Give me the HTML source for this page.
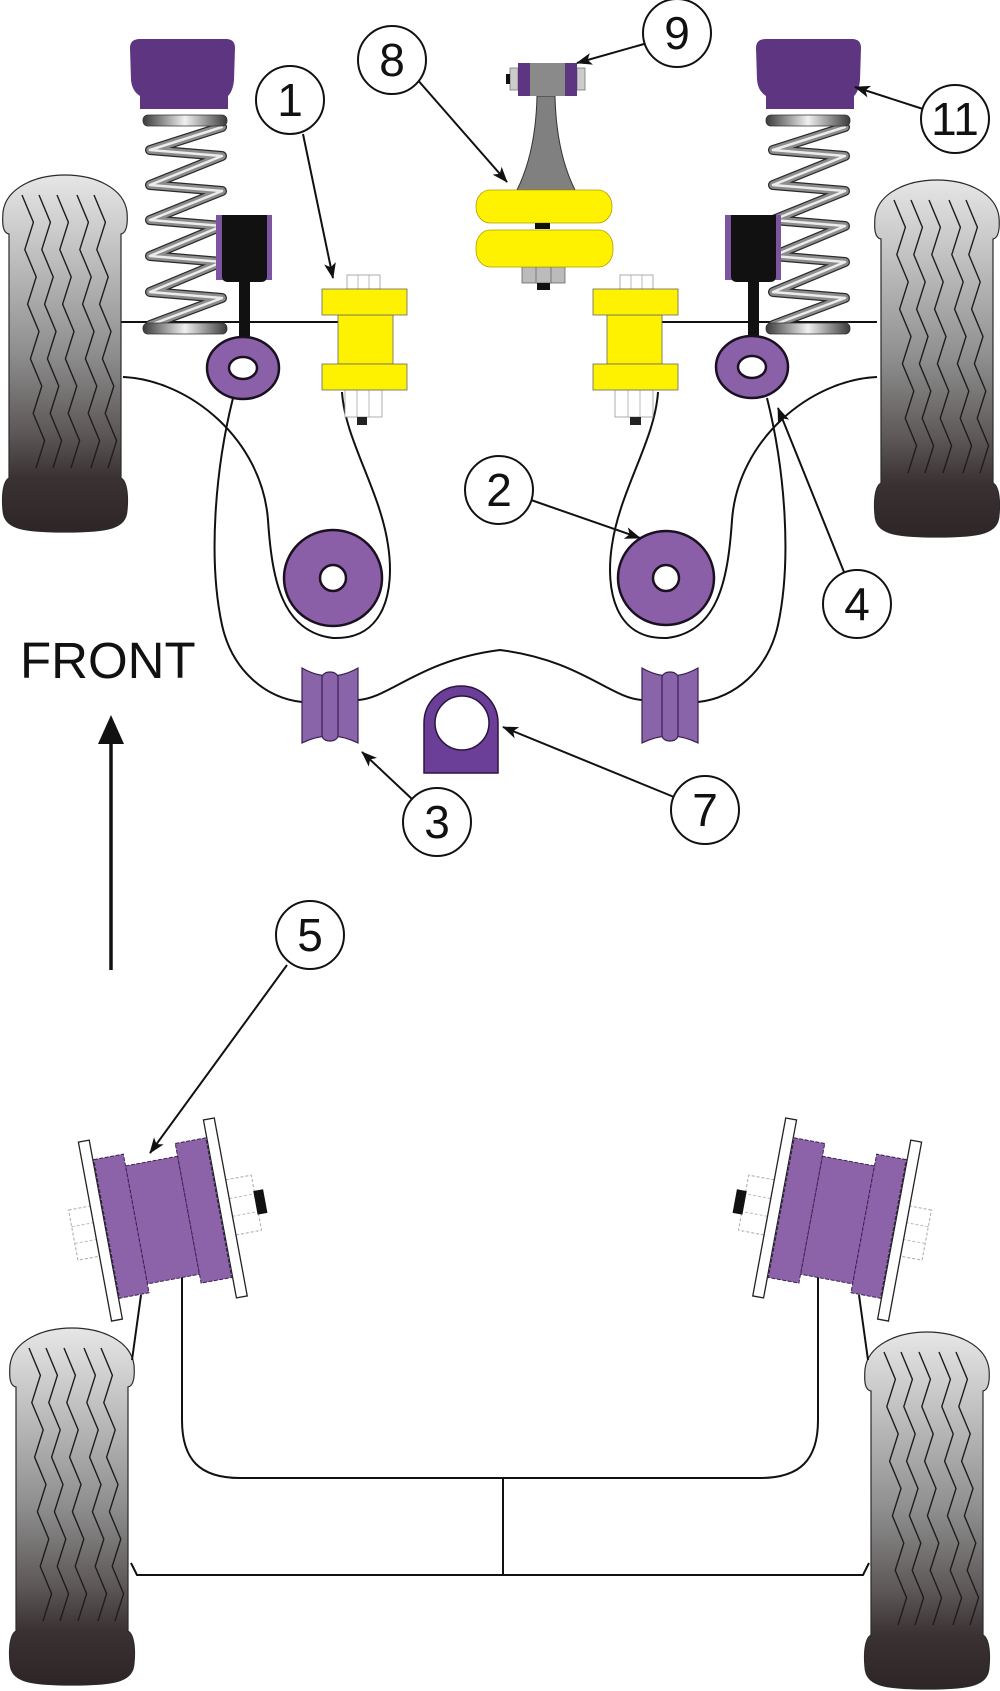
<!DOCTYPE html>
<html><head><meta charset="utf-8"><style>
html,body{margin:0;padding:0;background:#fff;}
svg{display:block;}
</style></head><body>
<svg width="1000" height="1691" viewBox="0 0 1000 1691" xmlns="http://www.w3.org/2000/svg">
<defs>
<linearGradient id="tg" x1="0" y1="0" x2="0" y2="1">
<stop offset="0" stop-color="#e6e6e6"/><stop offset="0.2" stop-color="#c4c4c4"/><stop offset="0.5" stop-color="#8e8e8e"/><stop offset="0.72" stop-color="#5e5858"/><stop offset="0.85" stop-color="#3a3232"/><stop offset="1" stop-color="#2e2626"/>
</linearGradient>
<linearGradient id="bar" x1="0" y1="0" x2="1" y2="0">
<stop offset="0" stop-color="#3a3a3a"/><stop offset="0.5" stop-color="#f0f0f0"/><stop offset="1" stop-color="#3a3a3a"/>
</linearGradient>
<marker id="ah" viewBox="0 0 16 12" refX="15" refY="6" markerWidth="16" markerHeight="12" orient="auto" markerUnits="userSpaceOnUse"><path d="M0,0 L16,6 L0,12 L4,6 Z" fill="#111"/></marker>
<g id="tire">
<path d="M9,234 C3,233 2,225 3,212 C6,188 35,175 65,175 C95,175 124,188 127,212 C128,225 126,233 121,234 L121,478 C128,482 128,500 127,510 C126,528 110,532 65,532 C20,532 4,528 3,510 C2,500 2,482 9,478 Z" fill="url(#tg)" stroke="#2a2a2a" stroke-width="1.2"/>
<g fill="none" stroke="#1e1e1e" stroke-width="1.4">
<path id="tr" d="M22,195 l11.4,27.3 l-8.6,27.3 l11.4,27.3 l-8.6,27.3 l11.4,27.3 l-8.6,27.3 l11.4,27.3 l-8.6,27.3 l11.4,27.3 l-8.6,27.3"/>
<use href="#tr" x="17"/><use href="#tr" x="35"/><use href="#tr" x="55"/><use href="#tr" x="72"/>
</g>
</g>
<g id="spring">
<path d="M222,127 L150,150 L222,156 L150,185 L222,191 L150,220 L222,226 L150,256 L222,262 L150,292 L222,298 L150,325" fill="none" stroke="#2a2a2a" stroke-width="10" stroke-linejoin="round" stroke-linecap="round"/>
<path d="M222,127 L150,150 L222,156 L150,185 L222,191 L150,220 L222,226 L150,256 L222,262 L150,292 L222,298 L150,325" fill="none" stroke="#8c8c8c" stroke-width="7.5" stroke-linejoin="round" stroke-linecap="round"/>
<path d="M222,127 L150,150 L222,156 L150,185 L222,191 L150,220 L222,226 L150,256 L222,262 L150,292 L222,298 L150,325" fill="none" stroke="#ececec" stroke-width="2.5" stroke-linejoin="round" stroke-linecap="round"/>
<rect x="143" y="115" width="84" height="11" rx="5" fill="url(#bar)" stroke="#333" stroke-width="0.8"/>
<rect x="143" y="323" width="84" height="11" rx="5" fill="url(#bar)" stroke="#333" stroke-width="0.8"/>
</g>
<g id="mount">
<path d="M140,109 L140,96 Q132,91 131,80 L130,48 Q130,39 140,39 L226,39 Q235,39 235,48 L234,80 Q233,91 228,96 L228,109 Z" fill="#5d3581"/>
</g>
<g id="b5">
<rect x="-91" y="-27" width="22" height="51" fill="#fff" stroke="#aaa" stroke-width="1" stroke-dasharray="3,2"/>
<line x1="-91" y1="-10" x2="-69" y2="-10" stroke="#bbb" stroke-dasharray="3,2"/>
<line x1="-91" y1="7" x2="-69" y2="7" stroke="#bbb" stroke-dasharray="3,2"/>
<rect x="69" y="-28" width="26" height="56" fill="#fff" stroke="#aaa" stroke-width="1" stroke-dasharray="3,2"/>
<line x1="69" y1="-9" x2="95" y2="-9" stroke="#bbb" stroke-dasharray="3,2"/>
<line x1="69" y1="9" x2="95" y2="9" stroke="#bbb" stroke-dasharray="3,2"/>
<rect x="94" y="-12" width="10" height="24" fill="#111"/>
<rect x="-69" y="-92" width="11" height="182" fill="#fff" stroke="#222" stroke-width="1.3"/>
<rect x="58" y="-91" width="11" height="181" fill="#fff" stroke="#222" stroke-width="1.3"/>
<rect x="-27" y="-60" width="53" height="120" fill="#8c63a8" stroke="#3a2052" stroke-width="1" stroke-dasharray="4,1.5"/>
<rect x="-57" y="-72" width="30" height="141" fill="#8c63a8" stroke="#3a2052" stroke-width="1" stroke-dasharray="4,1.5"/>
<rect x="26" y="-73" width="31" height="142" fill="#8c63a8" stroke="#3a2052" stroke-width="1" stroke-dasharray="4,1.5"/>
</g>
<g id="b3">
<path d="M302,668 Q330,684 358,668 L358,743 Q330,729 302,743 Z" fill="#8a64a8" stroke="#3a1f55" stroke-width="1.2"/>
<path d="M322,678 C322,670 338,670 338,678 L338,735 C338,743 322,743 322,735 Z" fill="#8a64a8" stroke="#3a1f55" stroke-width="1.2"/>
</g>
<g id="armL" fill="none" stroke="#111" stroke-width="2">
<path d="M123,377 C190,380 262,440 268,520 C272,580 282,632 333,638 C385,640 395,590 388,545 C380,490 345,440 342,392"/>
<path d="M233,398 C215,470 208,560 222,625 C232,670 265,698 302,702"/>
</g>
</defs>

<!-- axle lines -->
<line x1="121" y1="322" x2="340" y2="322" stroke="#111" stroke-width="2"/>
<line x1="660" y1="322" x2="877" y2="322" stroke="#111" stroke-width="2"/>

<!-- tires -->
<use href="#tire"/>
<use href="#tire" x="872" y="5"/>
<use href="#tire" x="7" y="1153"/>
<use href="#tire" x="862" y="1157"/>

<!-- springs and mounts -->
<use href="#spring"/>
<use href="#spring" x="623"/>
<use href="#mount"/>
<use href="#mount" x="626"/>

<!-- dampers -->
<rect x="216" y="215" width="56" height="65" fill="#7b55a0"/>
<path d="M222,215 L267,215 L267,276 Q267,282 261,282 L228,282 Q222,282 222,276 Z" fill="#111"/>
<rect x="239" y="280" width="11" height="62" fill="#111"/>
<rect x="725" y="215" width="56" height="65" fill="#7b55a0"/>
<path d="M731,215 L776,215 L776,276 Q776,282 770,282 L737,282 Q731,282 731,276 Z" fill="#111"/>
<rect x="748" y="280" width="11" height="62" fill="#111"/>

<!-- arms -->
<use href="#armL"/>
<use href="#armL" transform="matrix(-1,0,0,1,1000,0)"/>

<!-- eyes -->
<ellipse cx="243" cy="368" rx="36" ry="31" fill="#8a60a8" stroke="#1a1020" stroke-width="2.5"/>
<ellipse cx="243" cy="368" rx="14" ry="11" fill="#fff" stroke="#1a1020" stroke-width="2.5"/>
<ellipse cx="752" cy="367" rx="36" ry="31" fill="#8a60a8" stroke="#1a1020" stroke-width="2.5"/>
<ellipse cx="752" cy="367" rx="14" ry="11" fill="#fff" stroke="#1a1020" stroke-width="2.5"/>

<!-- lower bushes 2 -->
<ellipse cx="333" cy="578" rx="49" ry="48" fill="#8a5fa8" stroke="#1a1020" stroke-width="2.5"/>
<circle cx="333" cy="578" r="13" fill="#fff" stroke="#1a1020" stroke-width="2.5"/>
<ellipse cx="666" cy="578" rx="48" ry="47" fill="#8a5fa8" stroke="#1a1020" stroke-width="2.5"/>
<circle cx="666" cy="578" r="13" fill="#fff" stroke="#1a1020" stroke-width="2.5"/>

<!-- yellow bushes 1 -->
<g stroke-width="0.8">
<rect x="347" y="275" width="33" height="14" fill="#fff" stroke="#999"/>
<line x1="358" y1="275" x2="358" y2="289" stroke="#aaa"/><line x1="369" y1="275" x2="369" y2="289" stroke="#aaa"/>
<rect x="345" y="390" width="37" height="27" fill="#fff" stroke="#999"/>
<line x1="357" y1="390" x2="357" y2="417" stroke="#aaa"/><line x1="369" y1="390" x2="369" y2="417" stroke="#aaa"/>
<rect x="357" y="417" width="10" height="8" fill="#222"/>
<rect x="338" y="315" width="55" height="49" fill="#fff200" stroke="#666"/>
<rect x="322" y="289" width="85" height="26" fill="#fff200" stroke="#666"/>
<rect x="322" y="364" width="85" height="26" fill="#fff200" stroke="#666"/>

<rect x="620" y="275" width="33" height="14" fill="#fff" stroke="#999"/>
<line x1="631" y1="275" x2="631" y2="289" stroke="#aaa"/><line x1="642" y1="275" x2="642" y2="289" stroke="#aaa"/>
<rect x="615" y="390" width="38" height="27" fill="#fff" stroke="#999"/>
<line x1="628" y1="390" x2="628" y2="417" stroke="#aaa"/><line x1="640" y1="390" x2="640" y2="417" stroke="#aaa"/>
<rect x="630" y="417" width="11" height="8" fill="#222"/>
<rect x="607" y="315" width="55" height="49" fill="#fff200" stroke="#666"/>
<rect x="593" y="289" width="85" height="26" fill="#fff200" stroke="#666"/>
<rect x="593" y="364" width="85" height="26" fill="#fff200" stroke="#666"/>
</g>

<!-- anti-roll bar and bushes 3 -->
<path d="M358,700 C390,698 420,660 500,650 C580,660 610,698 642,700" fill="none" stroke="#111" stroke-width="2"/>
<use href="#b3"/>
<use href="#b3" transform="matrix(-1,0,0,1,1000,0)"/>

<!-- bush 7 -->
<path d="M424,773 L424,723 A37,37 0 0 1 498,723 L498,773 Z" fill="#6b3e97" stroke="#2a1540" stroke-width="1.5"/>
<circle cx="462" cy="723" r="27" fill="#fff" stroke="#2a1540" stroke-width="1.5"/>

<!-- component 8/9 -->
<rect x="510" y="68" width="8" height="22" fill="#ccc" stroke="#777" stroke-width="0.8"/>
<rect x="506" y="74" width="4" height="10" fill="#111"/>
<rect x="577" y="68" width="8" height="22" fill="#ccc" stroke="#777" stroke-width="0.8"/>
<path d="M537,96 L555,96 C556,140 565,170 575,190 L517,190 C527,170 536,140 537,96 Z" fill="#808080" stroke="#333" stroke-width="1"/>
<rect x="518" y="63" width="59" height="33" fill="#8a8a8a"/>
<rect x="518" y="63" width="12" height="33" fill="#5d3581"/>
<rect x="565" y="63" width="12" height="33" fill="#5d3581"/>
<rect x="522" y="267" width="43" height="16" fill="#bbb" stroke="#666" stroke-width="0.8"/>
<line x1="536" y1="267" x2="536" y2="283" stroke="#777"/><line x1="551" y1="267" x2="551" y2="283" stroke="#777"/>
<rect x="537" y="283" width="13" height="7" fill="#111"/>
<rect x="476" y="190" width="136" height="33" rx="14" ry="16" fill="#fff200" stroke="#b0a000" stroke-width="0.8"/>
<rect x="476" y="230" width="137" height="37" rx="14" ry="17" fill="#fff200" stroke="#b0a000" stroke-width="0.8"/>
<rect x="535" y="223" width="15" height="6" fill="#111"/>

<!-- rear frame -->
<g fill="none" stroke="#111" stroke-width="2">
<path d="M182,1277 L182,1420 C182,1460 200,1478 240,1478 L760,1478 C800,1478 818,1460 818,1420 L818,1277"/>
<line x1="503" y1="1478" x2="503" y2="1575"/>
<path d="M131,1563 L137,1575 L863,1575 L869,1563"/>
<line x1="141" y1="1295" x2="132" y2="1360"/>
<line x1="859" y1="1295" x2="868" y2="1360"/>
</g>
<use href="#b5" transform="translate(163,1220) rotate(-10.5)"/>
<g transform="matrix(-1,0,0,1,1000,0)"><use href="#b5" transform="translate(163,1220) rotate(-10.5)"/></g>

<!-- arrows -->
<g stroke="#111" stroke-width="2" fill="none" marker-end="url(#ah)">
<line x1="303" y1="134" x2="333" y2="278"/>
<line x1="416" y1="78" x2="507" y2="182"/>
<line x1="644" y1="44" x2="577" y2="63"/>
<line x1="923" y1="109" x2="855" y2="87"/>
<line x1="531" y1="500" x2="640" y2="538"/>
<line x1="844" y1="572" x2="778" y2="408"/>
<line x1="412" y1="799" x2="362" y2="752"/>
<line x1="674" y1="797" x2="503" y2="727"/>
<line x1="287" y1="965" x2="150" y2="1153"/>
</g>

<!-- label circles -->
<g fill="#fff" stroke="#111" stroke-width="2">
<circle cx="290" cy="100" r="34"/>
<circle cx="392" cy="60" r="34"/>
<circle cx="677" cy="33" r="34"/>
<circle cx="955" cy="119" r="34"/>
<circle cx="499" cy="490" r="34"/>
<circle cx="857" cy="604" r="34"/>
<circle cx="437" cy="822" r="34"/>
<circle cx="705" cy="810" r="34"/>
<circle cx="310" cy="935" r="34"/>
</g>
<g font-family="Liberation Sans, Arial, sans-serif" font-size="46" fill="#111" text-anchor="middle">
<text x="290" y="116">1</text>
<text x="392" y="76">8</text>
<text x="677" y="49">9</text>
<text x="955" y="135">11</text>
<text x="499" y="506">2</text>
<text x="857" y="620">4</text>
<text x="437" y="838">3</text>
<text x="705" y="826">7</text>
<text x="310" y="951">5</text>
</g>

<!-- FRONT -->
<text x="20" y="678" font-family="Liberation Sans, Arial, sans-serif" font-size="51" fill="#111">FRONT</text>
<line x1="111" y1="740" x2="111" y2="970" stroke="#111" stroke-width="3.5"/>
<path d="M111,715 L124,744 L98,744 Z" fill="#111"/>
</svg>
</body></html>
